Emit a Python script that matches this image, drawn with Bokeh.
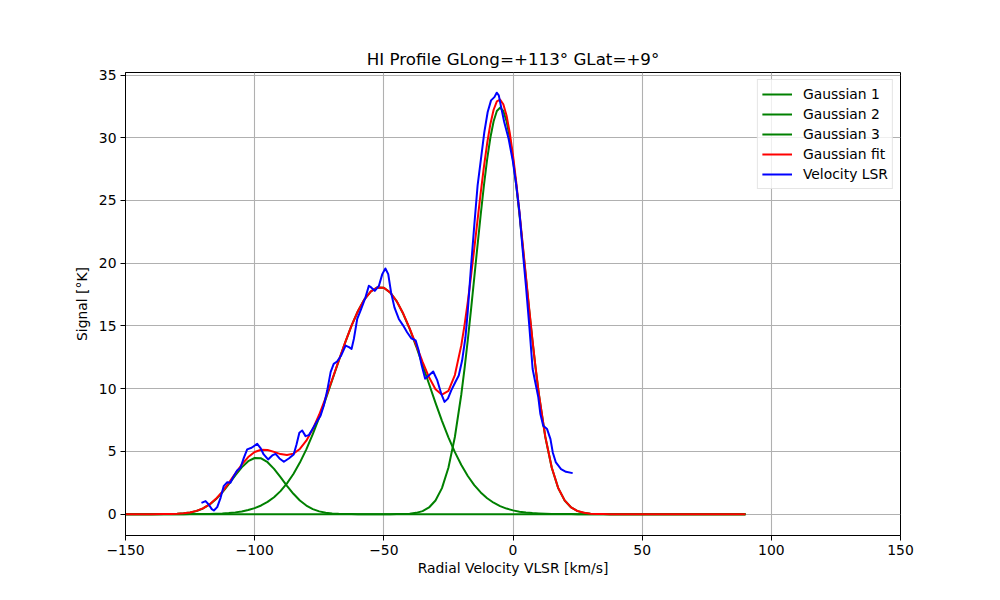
from bokeh.plotting import figure
from bokeh.models import FixedTicker, Legend, LegendItem, Range1d
from bokeh.embed import file_html
from bokeh.resources import INLINE

TITLE = "HI Profile GLong=+113\u00b0 GLat=+9\u00b0"
X_LABEL = "Radial Velocity VLSR [km/s]"
Y_LABEL = "Signal [\u00b0K]"
X_TICKS = [-150, -100, -50, 0, 50, 100, 150]
Y_TICKS = [0, 5, 10, 15, 20, 25, 30, 35]

# Gaussian 1
G1_X = [-150, -140, -135, -132.5, -130, -127.5, -125, -122.5, -120, -117.5, -115, -112.5,
        -110, -107.5, -105, -102.5, -100, -97.5, -95, -92.5, -90, -87.5, -85, -82.5,
        -80, -77.5, -75, -72.5, -70, -67.5, -65, -62.5, -60, 90]
G1_Y = [0, 0.001, 0.005, 0.013, 0.030, 0.066, 0.133, 0.254, 0.453, 0.757, 1.187, 1.742,
        2.397, 3.089, 3.731, 4.222, 4.477, 4.448, 4.140, 3.611, 2.952, 2.260, 1.622, 1.090,
        0.687, 0.406, 0.224, 0.116, 0.056, 0.026, 0.011, 0.004, 0.002, 0]

# Gaussian 2
G2_X = [-150, -130, -127.5, -125, -122.5, -120, -117.5, -115, -112.5, -110, -107.5, -105,
        -102.5, -100, -97.5, -95, -92.5, -90, -87.5, -85, -82.5, -80, -77.5, -75, -72.5,
        -70, -67.5, -65, -62.5, -60, -57.5, -55, -52.5, -50, -47.5, -45, -42.5, -40,
        -37.5, -35, -32.5, -30, -27.5, -25, -22.5, -20, -17.5, -15, -12.5, -10, -7.5,
        -5, -2.5, 0, 2.5, 5, 7.5, 10, 12.5, 15, 17.5, 20, 22.5, 25, 27.5, 30, 90]
G2_Y = [0, 0.001, 0.002, 0.004, 0.008, 0.013, 0.022, 0.036, 0.058, 0.092, 0.143, 0.218,
        0.327, 0.480, 0.691, 0.976, 1.352, 1.837, 2.450, 3.202, 4.109, 5.168, 6.377, 7.719, 9.164,
        10.67, 12.19, 13.66, 15.02, 16.19, 17.12, 17.76, 18.07, 18.04, 17.66, 16.96, 15.97, 14.76,
        13.38, 11.89, 10.37, 8.869, 7.441, 6.123, 4.943, 3.915, 3.041, 2.317, 1.730, 1.269, 0.912,
        0.643, 0.445, 0.302, 0.201, 0.131, 0.084, 0.053, 0.033, 0.020, 0.012, 0.007, 0.004, 0.002, 0.001, 0, 0]

# Gaussian 3
G3_X = [-150, -47.5, -45, -42.5, -40, -37.5, -35, -32.5, -30, -27.5, -25, -22.5, -20,
        -18.75, -17.5, -16.25, -15, -13.75, -12.5, -11.25, -10, -8.75, -7.5, -6.25, -5,
        -3.75, -2.5, -1.25, 0, 1.25, 2.5, 3.75, 5, 6.25, 7.5, 8.75, 10,
        12.5, 15, 17.5, 20, 22.5, 25, 27.5, 30, 32.5, 35, 37.5, 90]
G3_Y = [0, 0.002, 0.006, 0.016, 0.042, 0.105, 0.245, 0.535, 1.091, 2.078, 3.697, 6.150, 9.558,
        11.62, 13.88, 16.31, 18.83, 21.39, 23.88, 26.21, 28.29, 30.02, 31.32, 32.13, 32.40,
        32.13, 31.32, 30.02, 28.29, 26.21, 23.88, 21.39, 18.83, 16.31, 13.88, 11.62, 9.558,
        6.150, 3.697, 2.078, 1.091, 0.535, 0.245, 0.105, 0.042, 0.016, 0.006, 0.002, 0]

# Gaussian fit (sum)
FIT_X = [-150, -140, -135, -132.5, -130, -127.5, -125, -122.5, -120, -117.5, -115, -112.5,
         -110, -107.5, -105, -102.5, -100, -97.5, -95, -92.5, -90, -87.5, -85, -82.5,
         -80, -77.5, -75, -72.5, -70, -67.5, -65, -62.5, -60, -57.5, -55, -52.5, -50,
         -47.5, -45, -42.5, -40, -37.5, -35, -32.5, -30, -27.5, -25, -22.5, -20,
         -18.75, -17.5, -16.25, -15, -13.75, -12.5, -11.25, -10, -8.75, -7.5, -6.25, -5,
         -3.75, -2.5, -1.25, 0, 1.25, 2.5, 3.75, 5, 6.25, 7.5, 8.75, 10,
         12.5, 15, 17.5, 20, 22.5, 25, 27.5, 30, 32.5, 35, 37.5, 40, 90]
FIT_Y = [0, 0.001, 0.005, 0.014, 0.031, 0.068, 0.137, 0.262, 0.466, 0.779, 1.223, 1.800,
         2.489, 3.232, 3.949, 4.549, 4.957, 5.139, 5.116, 4.963, 4.789, 4.710, 4.824, 5.199,
         5.855, 6.783, 7.943, 9.280, 10.73, 12.22, 13.67, 15.02, 16.19, 17.12, 17.76, 18.07, 18.04,
         17.66, 16.97, 15.99, 14.80, 13.49, 12.14, 10.91, 9.960, 9.519, 9.820, 11.09, 13.47,
         15.08, 16.92, 18.97, 21.15, 23.40, 25.61, 27.70, 29.56, 31.10, 32.23, 32.90, 33.04,
         32.67, 31.77, 30.39, 28.59, 26.46, 24.08, 21.55, 18.96, 16.42, 13.96, 11.69, 9.611,
         6.183, 3.717, 2.090, 1.098, 0.539, 0.247, 0.106, 0.042, 0.016, 0.006, 0.002, 0.001, 0]

# Measured spectrum (Velocity LSR)
VLSR_X = [-120.6, -119.0, -117.8, -116.6, -115.8, -114.5, -113.2, -112.0, -110.6, -109.4,
          -108.1, -106.8, -105.5, -104.2, -102.9, -101.2, -99.0, -97.8, -96.5, -94.8,
          -93.2, -91.9, -90.4, -88.7, -86.8, -84.9, -83.8, -82.7, -81.6, -80.3,
          -79.0, -77.7, -76.2, -74.5, -73.2, -71.9, -70.6, -69.4, -68.1, -66.5,
          -64.8, -63.5, -62.5, -61.6, -60.3, -58.8, -57.1, -55.8, -54.9, -53.5,
          -51.9, -50.6, -49.4, -48.3, -47.2, -45.9, -44.2, -42.5, -41.0, -39.4,
          -37.7, -36.6, -35.4, -34.0, -32.6, -30.9, -29.3, -27.8, -26.5, -25.2,
          -23.9, -22.3, -21.0, -19.7, -18.4, -17.5, -16.3, -15.0, -13.7, -12.4,
          -11.1, -9.8, -8.5, -7.2, -6.3, -5.5, -4.6, -3.4, -1.7, -0.1,
          1.2, 2.5, 3.7, 5.0, 6.3, 7.6, 8.9, 9.8, 10.6, 11.7,
          13.2, 14.5, 15.4, 16.6, 18.6, 20.5, 23.1]
VLSR_Y = [0.90, 1.04, 0.77, 0.40, 0.29, 0.56, 1.30, 2.23, 2.55, 2.50,
          3.03, 3.48, 3.70, 4.49, 5.16, 5.29, 5.61, 5.29, 4.76, 4.36,
          4.68, 4.81, 4.44, 4.18, 4.44, 4.76, 5.56, 6.49, 6.67, 6.22,
          6.30, 6.75, 7.28, 7.85, 8.68, 9.87, 11.32, 11.98, 12.17, 12.65,
          13.44, 13.31, 13.17, 13.97, 15.56, 16.35, 17.28, 18.20, 18.07, 17.80,
          18.20, 19.13, 19.58, 19.13, 17.67, 16.48, 15.56, 15.03, 14.50, 14.02,
          13.85, 13.10, 11.90, 10.80, 11.05, 11.37, 10.66, 9.61, 8.95, 9.21,
          9.87, 10.53, 11.05, 12.24, 14.10, 16.20, 19.60, 23.00, 26.20, 28.32,
          30.45, 32.05, 32.98, 33.24, 33.59, 33.38, 32.45, 31.25, 29.92, 28.19,
          26.33, 24.07, 21.14, 18.22, 15.03, 11.57, 10.24, 9.31, 7.98, 7.05,
          6.78, 5.98, 4.92, 4.12, 3.59, 3.38, 3.27]

FONT = "DejaVu Sans"

p = figure(width=984, height=584,
           x_range=Range1d(-150, 150), y_range=Range1d(-1.7, 35.2),
           output_backend="svg", toolbar_location=None,
           min_border_left=125, min_border_right=84,
           min_border_top=72, min_border_bottom=49,
           title=TITLE)

p.title.text_font = FONT
p.title.text_font_size = "16.7px"
p.title.text_font_style = "normal"
p.title.align = "center"
p.title.text_color = "black"
p.title.standoff = 8

p.outline_line_color = "black"
p.outline_line_width = 1
p.outline_line_alpha = 1
p.background_fill_color = "white"
p.border_fill_color = "white"

p.xaxis.ticker = FixedTicker(ticks=X_TICKS)
p.yaxis.ticker = FixedTicker(ticks=Y_TICKS)
p.xaxis.major_label_overrides = {t: (("\u2212" + str(abs(t))) if t < 0 else str(t)) for t in X_TICKS}
p.yaxis.major_label_overrides = {t: str(t) for t in Y_TICKS}
p.xaxis.axis_label = X_LABEL
p.yaxis.axis_label = Y_LABEL
for ax in (p.xaxis, p.yaxis):
    ax.axis_label_text_font = FONT
    ax.axis_label_text_font_size = "13.9px"
    ax.axis_label_text_font_style = "normal"
    ax.axis_label_text_color = "black"
    ax.major_label_text_font = FONT
    ax.major_label_text_font_size = "13.9px"
    ax.major_label_text_color = "black"
    ax.axis_line_color = "black"
    ax.axis_line_width = 1
    ax.major_tick_line_color = "black"
    ax.major_tick_line_width = 1
    ax.major_tick_out = 5
    ax.major_tick_in = 0
    ax.minor_tick_line_color = None
    ax.major_label_standoff = 4
p.xaxis.axis_label_standoff = 2
p.yaxis.axis_label_standoff = 6

p.grid.grid_line_color = "#b0b0b0"
p.grid.grid_line_width = 1.1
p.grid.grid_line_alpha = 1

r1 = p.line(G1_X, G1_Y, line_color="green", line_width=2, line_join="round")
r2 = p.line(G2_X, G2_Y, line_color="green", line_width=2, line_join="round")
r3 = p.line(G3_X, G3_Y, line_color="green", line_width=2, line_join="round")
r4 = p.line(FIT_X, FIT_Y, line_color="red", line_width=2, line_join="round")
r5 = p.line(VLSR_X, VLSR_Y, line_color="blue", line_width=2, line_join="round")

legend = Legend(items=[
    LegendItem(label="Gaussian 1", renderers=[r1]),
    LegendItem(label="Gaussian 2", renderers=[r2]),
    LegendItem(label="Gaussian 3", renderers=[r3]),
    LegendItem(label="Gaussian fit", renderers=[r4]),
    LegendItem(label="Velocity LSR", renderers=[r5]),
])
legend.location = "top_right"
legend.margin = 7
legend.padding = 4
legend.spacing = 0
legend.glyph_width = 30
legend.glyph_height = 20
legend.label_height = 20
legend.label_standoff = 11
legend.label_text_font = FONT
legend.label_text_font_size = "13.9px"
legend.label_text_color = "black"
legend.border_line_color = "#cccccc"
legend.border_line_width = 1
legend.background_fill_color = "white"
legend.background_fill_alpha = 0.8
p.add_layout(legend)

open("out.html", "w").write(file_html(p, INLINE))
